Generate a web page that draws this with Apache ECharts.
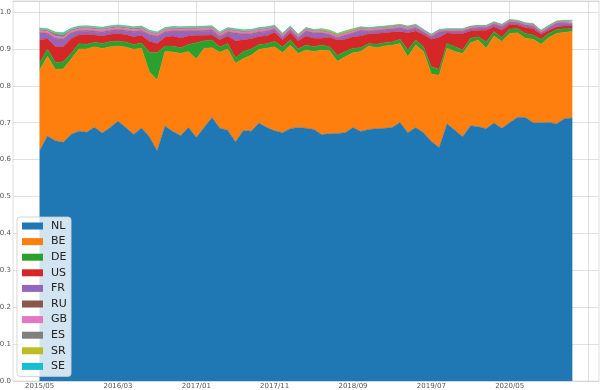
<!DOCTYPE html>
<html><head><meta charset="utf-8">
<script src="https://cdn.jsdelivr.net/npm/echarts@6/dist/echarts.min.js"></script>
<style>html,body{margin:0;padding:0;background:#fff}#c{width:600px;height:390px}</style>
</head><body><div id="c"></div>
<script>
const months = [
'2015/05','2015/06','2015/07','2015/08','2015/09','2015/10','2015/11','2015/12',
'2016/01','2016/02','2016/03','2016/04','2016/05','2016/06','2016/07','2016/08','2016/09','2016/10','2016/11','2016/12',
'2017/01','2017/02','2017/03','2017/04','2017/05','2017/06','2017/07','2017/08','2017/09','2017/10','2017/11','2017/12',
'2018/01','2018/02','2018/03','2018/04','2018/05','2018/06','2018/07','2018/08','2018/09','2018/10','2018/11','2018/12',
'2019/01','2019/02','2019/03','2019/04','2019/05','2019/06','2019/07','2019/08','2019/09','2019/10','2019/11','2019/12',
'2020/01','2020/02','2020/03','2020/04','2020/05','2020/06','2020/07','2020/08','2020/09','2020/10','2020/11','2020/12',
'2021/01'];
const xTickLabels = ['2015/05','2016/03','2017/01','2017/11','2018/09','2019/07','2020/05'];

const NL = [0.624,0.664,0.651,0.647,0.668,0.677,0.674,0.688,0.672,0.687,
0.704,0.687,0.668,0.686,0.662,0.624,0.691,0.676,0.665,0.687,
0.660,0.687,0.714,0.685,0.680,0.648,0.679,0.677,0.699,0.687,
0.678,0.673,0.684,0.687,0.685,0.682,0.668,0.670,0.671,0.673,
0.687,0.676,0.682,0.684,0.685,0.687,0.701,0.673,0.687,0.673,
0.649,0.633,0.697,0.680,0.662,0.692,0.689,0.684,0.699,0.685,
0.700,0.715,0.714,0.700,0.700,0.701,0.697,0.711,0.713];
const BE = [0.219,0.216,0.194,0.199,0.204,0.223,0.226,0.218,0.229,0.219,
0.204,0.218,0.231,0.216,0.176,0.192,0.202,0.216,0.223,0.206,
0.213,0.215,0.189,0.206,0.220,0.213,0.195,0.206,0.200,0.215,
0.228,0.217,0.226,0.201,0.212,0.211,0.229,0.225,0.196,0.206,
0.203,0.217,0.226,0.219,0.223,0.223,0.214,0.206,0.224,0.220,
0.183,0.196,0.205,0.213,0.226,0.225,0.235,0.218,0.236,0.235,
0.242,0.229,0.215,0.226,0.213,0.230,0.245,0.234,0.234];
const DE = [0.019,0.020,0.018,0.019,0.016,0.014,0.013,0.012,0.014,0.014,
0.013,0.014,0.013,0.014,0.054,0.074,0.015,0.016,0.015,0.019,
0.044,0.020,0.021,0.014,0.015,0.015,0.019,0.017,0.013,0.012,
0.015,0.015,0.015,0.012,0.014,0.013,0.014,0.011,0.016,0.014,
0.012,0.010,0.007,0.010,0.009,0.009,0.011,0.018,0.013,0.013,
0.020,0.016,0.013,0.013,0.009,0.012,0.009,0.017,0.012,0.011,
0.012,0.011,0.013,0.012,0.013,0.011,0.011,0.010,0.008];
const US = [0.062,0.028,0.044,0.041,0.040,0.024,0.027,0.020,0.020,0.020,
0.020,0.020,0.021,0.021,0.029,0.025,0.024,0.027,0.027,0.023,
0.020,0.015,0.014,0.020,0.020,0.046,0.032,0.028,0.022,0.022,
0.024,0.020,0.019,0.022,0.024,0.023,0.018,0.026,0.041,0.033,
0.031,0.032,0.026,0.029,0.027,0.027,0.021,0.047,0.025,0.033,
0.074,0.087,0.028,0.036,0.045,0.020,0.018,0.032,0.013,0.020,
0.013,0.010,0.016,0.017,0.014,0.009,0.007,0.007,0.007];
const FR = [0.018,0.012,0.020,0.018,0.013,0.009,0.008,0.008,0.009,0.008,
0.009,0.009,0.012,0.010,0.016,0.017,0.012,0.012,0.016,0.012,
0.010,0.011,0.011,0.007,0.009,0.019,0.013,0.011,0.010,0.010,
0.008,0.007,0.007,0.007,0.012,0.013,0.013,0.006,0.005,0.010,
0.009,0.014,0.006,0.007,0.007,0.007,0.009,0.007,0.007,0.005,
0.006,0.013,0.004,0.005,0.005,0.005,0.005,0.005,0.006,0.008,
0.005,0.005,0.005,0.006,0.003,0.005,0.008,0.008,0.008];
const RU = [0.002,0.002,0.002,0.002,0.002,0.002,0.002,0.002,0.002,0.002,
0.002,0.002,0.002,0.002,0.002,0.002,0.002,0.002,0.002,0.002,
0.002,0.002,0.002,0.002,0.002,0.002,0.002,0.002,0.002,0.002,
0.001,0.001,0.001,0.001,0.001,0.001,0.001,0.001,0.001,0.001,
0.001,0.001,0.001,0.001,0.001,0.001,0.001,0.001,0.001,0.001,
0.001,0.001,0.001,0.001,0.001,0.001,0.001,0.001,0.001,0.001,
0.001,0.001,0.001,0.001,0.001,0.001,0.001,0.001,0.001];
const GB = [0.006,0.006,0.006,0.006,0.006,0.006,0.006,0.006,0.006,0.006,
0.006,0.006,0.006,0.006,0.006,0.006,0.006,0.006,0.006,0.006,
0.006,0.006,0.006,0.006,0.006,0.006,0.006,0.006,0.006,0.006,
0.005,0.005,0.005,0.005,0.005,0.005,0.005,0.005,0.005,0.005,
0.005,0.005,0.005,0.005,0.005,0.005,0.005,0.005,0.005,0.004,
0.004,0.004,0.004,0.004,0.004,0.004,0.004,0.004,0.004,0.004,
0.004,0.004,0.004,0.004,0.004,0.004,0.004,0.004,0.004];
const ES = [0.003,0.003,0.007,0.006,0.003,0.003,0.003,0.003,0.003,0.003,
0.003,0.003,0.003,0.003,0.002,0.002,0.002,0.002,0.002,0.002,
0.002,0.002,0.002,0.002,0.002,0.002,0.002,0.002,0.002,0.002,
0.002,0.002,0.002,0.002,0.002,0.002,0.002,0.002,0.002,0.002,
0.002,0.002,0.002,0.002,0.002,0.002,0.002,0.002,0.002,0.002,
0.001,0.001,0.001,0.001,0.001,0.001,0.001,0.001,0.001,0.001,
0.001,0.001,0.001,0.001,0.001,0.001,0.001,0.001,0.001];
const SR = [0.002,0.002,0.002,0.002,0.002,0.002,0.002,0.002,0.002,0.002,
0.002,0.002,0.002,0.002,0.002,0.002,0.002,0.002,0.002,0.002,
0.002,0.002,0.002,0.002,0.002,0.002,0.002,0.002,0.002,0.002,
0.002,0.002,0.002,0.002,0.002,0.002,0.004,0.004,0.004,0.004,
0.004,0.002,0.002,0.002,0.002,0.002,0.002,0.002,0.002,0.001,
0.001,0.001,0.001,0.001,0.001,0.001,0.001,0.001,0.001,0.001,
0.001,0.001,0.001,0.001,0.001,0.001,0.001,0.001,0.001];
const SE = [0.002,0.002,0.002,0.004,0.002,0.002,0.002,0.002,0.002,0.002,
0.002,0.002,0.002,0.002,0.002,0.002,0.002,0.002,0.002,0.002,
0.002,0.002,0.002,0.002,0.002,0.002,0.002,0.002,0.002,0.002,
0.001,0.001,0.001,0.001,0.001,0.001,0.001,0.001,0.001,0.001,
0.001,0.001,0.001,0.001,0.001,0.001,0.001,0.001,0.001,0.001,
0.001,0.001,0.001,0.001,0.001,0.001,0.001,0.001,0.001,0.001,
0.001,0.001,0.001,0.001,0.001,0.001,0.001,0.001,0.001];

const seriesNames = ['NL','BE','DE','US','FR','RU','GB','ES','SR','SE'];
const seriesValues = [NL,BE,DE,US,FR,RU,GB,ES,SR,SE];
const colors = ['#1f77b4','#ff7f0e','#2ca02c','#d62728','#9467bd','#8c564b','#e377c2','#7f7f7f','#bcbd22','#17becf'];

// x positions are month indices; ticks every 10 months, one extra grid line past the last label
const labelIdx = xTickLabels.map(l => months.indexOf(l));
const gridIdx = labelIdx.concat([labelIdx[labelIdx.length - 1] + 10]);
const n = months.length - 1;
const xMin = -0.05 * n, xMax = n + 0.05 * n;
const gridColor = 'rgba(176,176,176,0.38)';

const chart = echarts.init(document.getElementById('c'), null, {renderer: 'canvas'});
chart.setOption({
  animation: false,
  color: colors,
  textStyle: {fontFamily: 'DejaVu Sans'},
  grid: {left: 13, right: 1, top: 1, bottom: 9, show: true, borderColor: '#dedede', borderWidth: 1,
    containLabel: false, outerBoundsMode: 'none'},
  legend: {
    orient: 'vertical', left: 17, top: 217,
    data: seriesNames, icon: 'rect', itemWidth: 21, itemHeight: 7, itemGap: 3.6,
    padding: [3, 4, 4, 5],
    backgroundColor: 'rgba(255,255,255,0.8)', borderColor: 'rgba(204,204,204,0.8)', borderWidth: 1, borderRadius: 3,
    textStyle: {fontSize: 11, lineHeight: 12, color: '#222', fontFamily: 'DejaVu Sans', padding: [0, 0, 0, 3]},
    selectedMode: false
  },
  xAxis: {
    type: 'value', min: xMin, max: xMax, z: 3,
    axisLine: {show: false},
    axisTick: {show: false, customValues: gridIdx},
    axisLabel: {customValues: labelIdx, formatter: v => months[Math.round(v)] || '', fontSize: 7, color: '#555', margin: 2, fontFamily: 'DejaVu Sans'},
    splitLine: {show: true, lineStyle: {color: gridColor, width: 1}}
  },
  yAxis: {
    type: 'value', min: 0, max: 1.03, interval: 0.1, z: 3,
    axisLine: {show: false}, axisTick: {show: false},
    axisLabel: {fontSize: 7, color: '#555', margin: 2, fontFamily: 'DejaVu Sans', showMaxLabel: false,
      formatter: v => (Math.abs(v * 10 - Math.round(v * 10)) < 1e-6 ? v.toFixed(1) : '')},
    splitLine: {show: true, lineStyle: {color: gridColor, width: 1}}
  },
  series: seriesNames.map((name, k) => ({
    name: name, type: 'line', stack: 'total',
    encode: {x: 1, y: 0},
    data: seriesValues[k].map((v, i) => [v, i]),
    showSymbol: false, symbol: 'none',
    lineStyle: {width: 0.5, color: colors[k]},
    areaStyle: {color: colors[k], opacity: 1},
    emphasis: {disabled: true}
  }))
});
</script>
</body></html>
